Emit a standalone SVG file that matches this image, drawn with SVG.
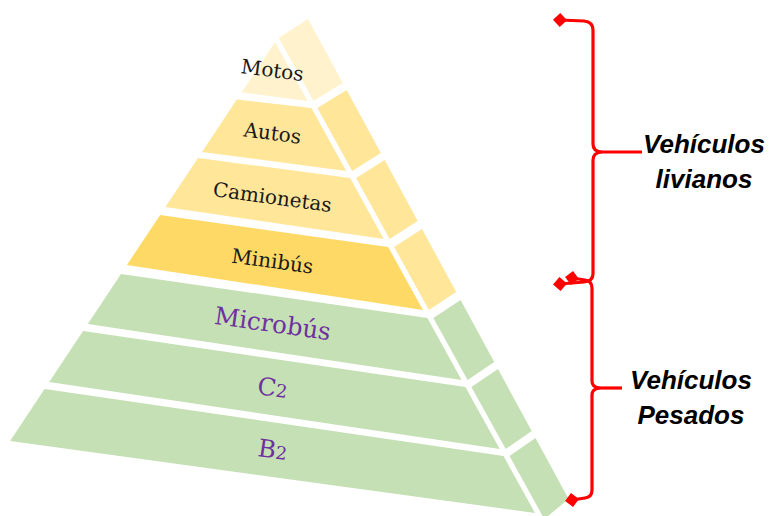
<svg xmlns="http://www.w3.org/2000/svg" width="770" height="516" viewBox="0 0 770 516">
  <style>
    .pale { fill: #FFF2CC; }
    .light { fill: #FFE699; }
    .gold { fill: #FFD966; }
    .green { fill: #C5E0B4; }
    .lbl { font-family: "DejaVu Serif", "Liberation Serif", serif; text-anchor: middle; }
    .dark { fill: #1A1A1A; font-size: 20px; }
    .violet { fill: #7030A0; font-size: 24.5px; }
    .brace { fill: none; stroke: #FF0000; stroke-width: 3.2; stroke-linejoin: round; stroke-linecap: butt; }
    .tag { font-family: "Liberation Sans", Arial, sans-serif; font-weight: bold; font-style: italic; font-size: 26px; fill: #000; text-anchor: middle; }
  </style>
  <defs>
    <marker id="diamond" viewBox="-7 -7 14 14" markerWidth="14" markerHeight="14" markerUnits="userSpaceOnUse" refX="0" refY="0" orient="auto">
      <path d="M-7 0 L0 -7 L7 0 L0 7 Z" fill="#FF0000"/>
    </marker>
  </defs>
  <rect width="770" height="516" fill="#FFFFFF"/>

  <!-- pyramid tiers: front face + right side face -->
  <g id="tier-motos">
    <polygon class="pale" points="275,42 241.5,92.5 307.6,101"/>
    <polygon class="pale" points="278.8,38 308,19 342.8,83 313.6,101"/>
    <text class="lbl dark" x="271.5" y="77" transform="rotate(7.5 271.5 77)">Motos</text>
  </g>
  <g id="tier-autos">
    <polygon class="light" points="236.8,99.5 311.4,108 346.2,171 202,152"/>
    <polygon class="light" points="317.4,108 346.6,90 380.8,153 352.2,171"/>
    <text class="lbl dark" x="271.5" y="140" transform="rotate(7.5 271.5 140)">Autos</text>
  </g>
  <g id="tier-camionetas">
    <polygon class="light" points="198,158 350.1,178 383.7,239 165.4,207"/>
    <polygon class="light" points="356.1,178 384.6,160 417.7,221 389.7,239"/>
    <text class="lbl dark" x="271.5" y="204" transform="rotate(7.7 271.5 204)">Camionetas</text>
  </g>
  <g id="tier-minibus">
    <polygon class="gold" points="160.1,215 388.2,247 422.9,310 126.9,265"/>
    <polygon class="light" points="394.2,247 422,229 456.2,292 428.9,310"/>
    <text class="lbl dark" x="271.5" y="268" transform="rotate(7.8 271.5 268)">Minibús</text>
  </g>
  <g id="tier-microbus">
    <polygon class="green" points="121,274 427.4,318 461.6,380 87.8,324"/>
    <polygon class="green" points="433.4,318 460.6,300 494.2,362 467.6,380"/>
    <text class="lbl violet" x="271.5" y="332" transform="rotate(8 271.5 332)">Microbús</text>
  </g>
  <g id="tier-c2">
    <polygon class="green" points="83.1,331 465.4,387 499.7,449 49.2,382"/>
    <polygon class="green" points="471.4,387 498,369 531.7,431 505.7,449"/>
    <text class="lbl violet" x="271.5" y="396" transform="rotate(8 271.5 396)">C<tspan font-size="18px">2</tspan></text>
  </g>
  <g id="tier-b2">
    <polygon class="green" points="44.6,389 503.5,456 535,513 10.1,441"/>
    <polygon class="green" points="509.5,456 535.5,438 568.6,499 544.3,519"/>
    <text class="lbl violet" x="271.5" y="458" transform="rotate(8 271.5 458)">B<tspan font-size="18px">2</tspan></text>
  </g>

  <!-- category braces -->
  <g id="connectors">
    <path class="brace" marker-start="url(#diamond)" marker-end="url(#diamond)"
          d="M560,20 L584,21 Q593,22 593,30 L593,144 Q593,151 601,152 Q593,153 593,160 L593,274 Q593,281 584,282 L560,284"/>
    <path class="brace" d="M600,152 L642,152"/>
    <path class="brace" marker-start="url(#diamond)" marker-end="url(#diamond)"
          d="M572,278 L585,280 Q592,281 592,288 L592,381 Q592,387 599,388 Q592,389 592,395 L592,490 Q592,497 585,498 L572,500"/>
    <path class="brace" d="M598,388 L622,388"/>
  </g>

  <g id="label-livianos">
    <text class="tag" x="704" y="153">Vehículos</text>
    <text class="tag" x="704" y="188">livianos</text>
  </g>
  <g id="label-pesados">
    <text class="tag" x="691" y="389">Vehículos</text>
    <text class="tag" x="691" y="424">Pesados</text>
  </g>
</svg>
